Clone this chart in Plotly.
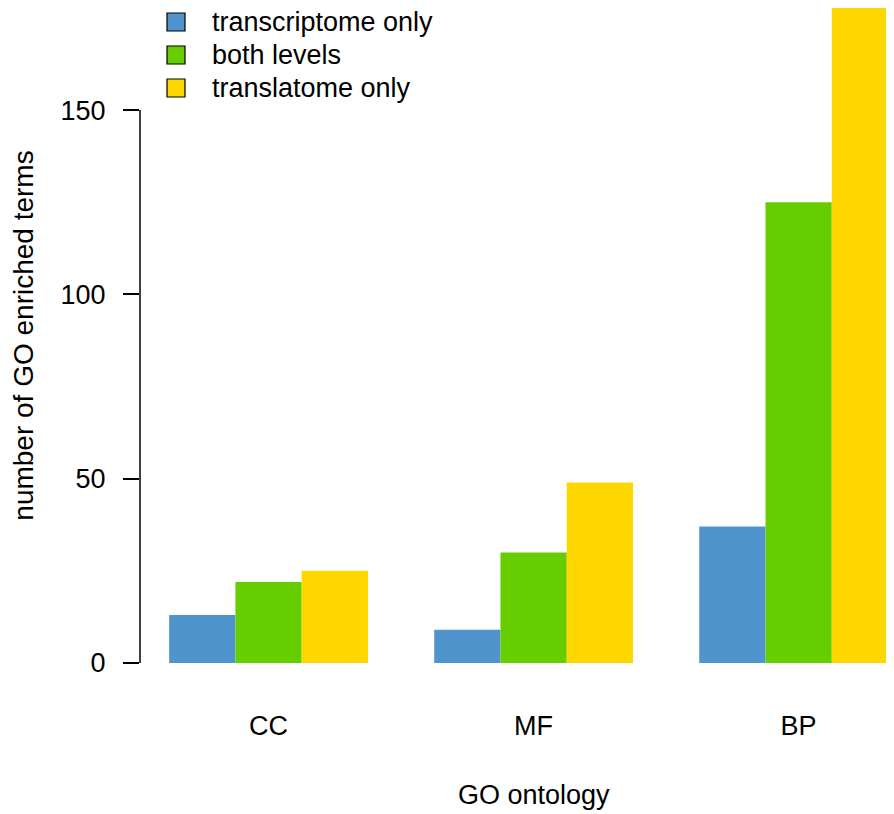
import plotly.graph_objects as go

categories = ["CC", "MF", "BP"]
series_names = ["transcriptome only", "both levels", "translatome only"]
transcriptome_only = [13, 9, 37]
both_levels = [22, 30, 125]
translatome_only = [25, 49, 190]
y_ticks = [0, 50, 100, 150]

colors = ["#4F94CD", "#66CD00", "#FFD700"]
font_family = "Liberation Sans, Arial, sans-serif"

# the page body adds an 8px margin, so the layout is shifted up/left by 8
L, PW, PH = 132, 762, 655

fig = go.Figure()
for name, values, color in zip(series_names,
                               [transcriptome_only, both_levels, translatome_only],
                               colors):
    fig.add_trace(go.Bar(x=categories, y=values, name=name,
                         marker=dict(color=color, line=dict(width=0)),
                         showlegend=False))

# R-style axis line only spanning the tick range
fig.add_shape(type="line", xref="paper", yref="y", x0=0, x1=0,
              y0=y_ticks[0], y1=y_ticks[-1],
              line=dict(color="black", width=1.5))

# hand-made legend with bordered squares
for i, (name, color) in enumerate(zip(series_names, colors)):
    yc = 14 + 33 * i
    fig.add_shape(type="rect", xref="paper", yref="paper",
                  x0=(159 - L) / PW, x1=(177 - L) / PW,
                  y0=1 - (yc + 9) / PH, y1=1 - (yc - 9) / PH,
                  fillcolor=color, line=dict(color="black", width=1.2))
    fig.add_annotation(text=name, xref="paper", yref="paper",
                       x=(202 - L) / PW, y=1 - yc / PH,
                       xanchor="left", yanchor="middle", showarrow=False,
                       font=dict(size=27, color="black", family=font_family))

# x title centred on R's (wider) plot region
fig.add_annotation(text="GO ontology", xref="paper", yref="paper",
                   x=(526 - L) / PW, y=(PH - 787) / PH,
                   xanchor="center", yanchor="middle", showarrow=False,
                   font=dict(size=27, color="black", family=font_family))

fig.update_layout(
    width=894, height=814,
    margin=dict(l=L, r=0, t=0, b=814 - PH),
    barmode="group", bargap=0.25, bargroupgap=0,
    plot_bgcolor="white", paper_bgcolor="white",
    font=dict(family=font_family, size=27, color="black"),
    xaxis=dict(range=[-0.485, 2.39], showline=False, showgrid=False,
               zeroline=False, ticks="", ticklabelstandoff=44,
               tickfont=dict(size=27)),
    yaxis=dict(range=[0, 177.7], tickvals=y_ticks, showline=False,
               showgrid=False, zeroline=False, ticks="outside", ticklen=16,
               tickwidth=1.5, tickcolor="black", ticklabelstandoff=12,
               tickfont=dict(size=27),
               title=dict(text="number of GO enriched terms", standoff=23,
                          font=dict(size=28))),
)

fig.write_html("out.html")
